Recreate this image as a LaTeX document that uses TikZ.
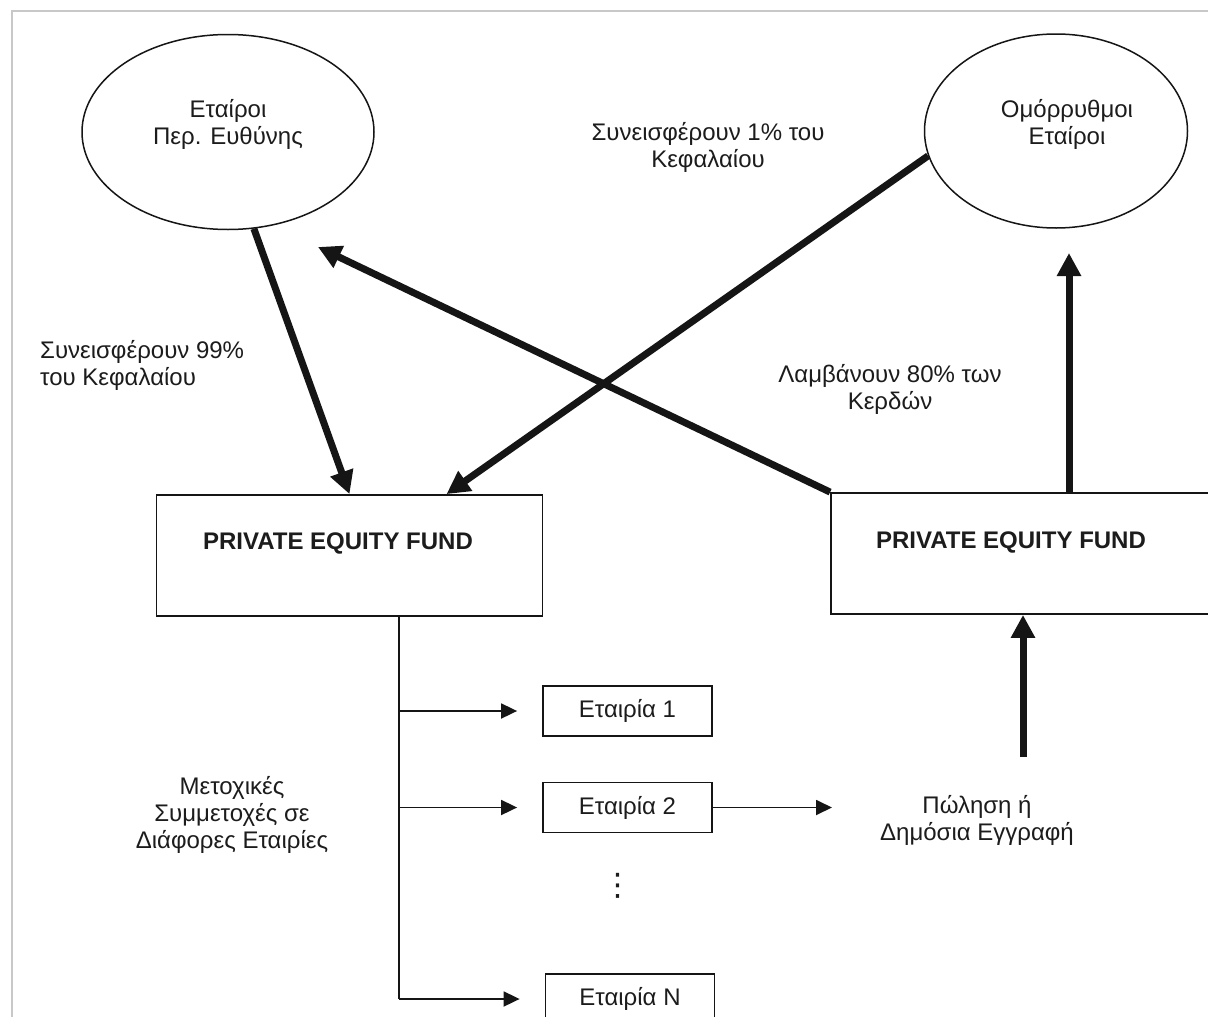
\documentclass[tikz,border=0pt]{standalone}
\usepackage{fontspec}
\setmainfont{Liberation Sans}
\newfontfamily\dejavu{DejaVu Sans}
\usetikzlibrary{arrows.meta,shapes.geometric,calc}
\definecolor{ink}{HTML}{151515}
\definecolor{txt}{HTML}{1C1C1C}
\definecolor{framegray}{HTML}{C8C8C8}
\begin{document}
\begin{tikzpicture}[x=1pt,y=-1pt,
  every node/.style={font=\fontsize{24}{27}\selectfont, text=txt},
  oval/.style={draw=ink, line width=1.5pt, ellipse, inner sep=0pt},
  fundbox/.style={draw=ink, line width=1.8pt, rectangle, inner sep=0pt, minimum width=386pt, minimum height=121pt},
  cobox/.style={draw=ink, line width=1.8pt, rectangle, inner sep=0pt, minimum width=169pt, minimum height=50pt},
  bigarrow/.style={draw=ink, line width=7pt, -{Triangle[length=23pt,width=23pt]}},
  thinarrow/.style={draw=ink, line width=1.8pt, -{Triangle[length=16pt,width=15pt]}},
  thinline/.style={draw=ink, line width=1.8pt},
  lbl/.style={align=center, inner sep=0pt},
  boldlbl/.style={inner sep=0pt, font=\fontsize{24}{27}\selectfont\bfseries},
]
\useasboundingbox (0,0) rectangle (1208,1017);
\clip (0,0) rectangle (1208,1017);
\fill[white] (0,0) rectangle (1208,1017);
\draw[framegray, line width=1.5pt] (12,11) rectangle (1240,1050);

% partners
\node[oval, minimum width=292pt, minimum height=195pt] (e1) at (228,132) {};
\node[lbl] (e1t) at (228,124) {Εταίροι\\Περ. Ευθύνης};
\node[oval, minimum width=263pt, minimum height=194pt] (e2) at (1056,131) {};
\node[lbl] (e2t) at (1067,124) {Ομόρρυθμοι\\Εταίροι};

% labels
\node[lbl, align=left, anchor=west] (l99) at (40,365) {Συνεισφέρουν 99\%\\του Κεφαλαίου};
\node[lbl] (l1) at (708,147) {Συνεισφέρουν 1\% του\\Κεφαλαίου};
\node[lbl] (l80) at (890,389) {Λαμβάνουν 80\% των\\Κερδών};
\node[lbl] (lmet) at (232,815) {Μετοχικές\\Συμμετοχές σε\\Διάφορες Εταιρίες};
\node[lbl] (lpol) at (977,820) {Πώληση ή\\Δημόσια Εγγραφή};

% funds
\node[fundbox] (b1) at (349.5,555.5) {};
\node[boldlbl] (b1t) at (338,543) {PRIVATE EQUITY FUND};
\node[fundbox, minimum width=400pt] (b2) at (1031,553.5) {};
\node[boldlbl] (b2t) at (1011,542) {PRIVATE EQUITY FUND};

% companies
\node[cobox] (c1) at (627.5,711) {Εταιρία 1};
\node[cobox] (c2) at (627.5,807.5) {Εταιρία 2};
\node[cobox] (cN) at (630,999) {Εταιρία N};
\node[font=\dejavu\fontsize{31}{31}\selectfont, inner sep=0pt] (dots) at (618,886) {⋮};

% thick connectors
\draw[bigarrow] (e1.-75) -- (b1.north);
\draw[bigarrow] (e2.191) -- ($(b1.north)+(97,0)$);
\coordinate (bTip) at (318,247);
\draw[bigarrow] (b2.north west) -- (bTip);
\coordinate (dTip) at (1069,253);
\draw[bigarrow] (b2.north west -| dTip) -- (dTip);
\coordinate (eBase) at (1023,757);
\draw[bigarrow] (eBase) -- (eBase |- b2.south);

% tree
\coordinate (t0) at ($(b1.south west)+(243,0)$);
\draw[thinline] (t0) -- (t0 |- cN.west);
\draw[thinarrow] (t0 |- c1.west) -- ([xshift=-25pt]c1.west);
\draw[thinarrow] (t0 |- c2.west) -- ([xshift=-25pt]c2.west);
\draw[thinarrow] (t0 |- cN.west) -- ([xshift=-25pt]cN.west);
\coordinate (pTip) at (832,807.5);
\draw[thinarrow] (c2.east) -- (pTip);
\end{tikzpicture}
\end{document}
